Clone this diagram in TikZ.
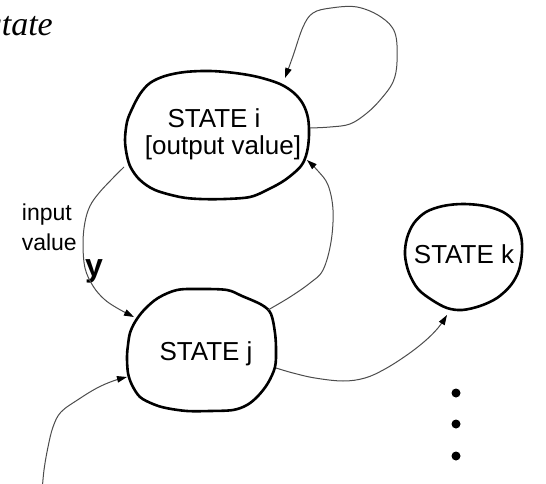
\documentclass[tikz,border=0pt]{standalone}
\usepackage{fontspec}
\setmainfont{Liberation Sans}
\newfontfamily\capserif{Liberation Serif}
\usetikzlibrary{arrows.meta}
\begin{document}
\begin{tikzpicture}[x=1pt,y=-1pt,
  blob/.style={line width=2.6pt,line join=round,draw=black},
  link/.style={line width=1pt,draw=black!70,
    -{Triangle[length=10pt,width=6.5pt,color=black]}},
  statetext/.style={font=\fontsize{26}{30}\selectfont,inner sep=0pt,anchor=base},
  labeltext/.style={font=\fontsize{23}{27}\selectfont,inner sep=0pt,anchor=base east},
  dotnode/.style={circle,fill=black,inner sep=0pt,minimum size=9pt}]
\useasboundingbox (0,0) rectangle (546,484);
\clip (0,0) rectangle (546,484);

% caption fragments
\node[inner sep=0pt,anchor=base east,font=\capserif\itshape\fontsize{34}{38}\selectfont] (capA) at (53,36) {state};
\node[inner sep=0pt,anchor=base east,font=\bfseries\fontsize{32}{36}\selectfont] (capB) at (103,276) {y};

% state outlines
\draw[blob] plot[smooth cycle,tension=0.55] coordinates {
  (125,140) (127,122) (132,109) (140,94) (150,83) (165,76) (185,72) (210,71)
  (235,73) (258,77) (280,84) (294,93) (303,104) (308,118) (309,135) (307,152)
  (301,166) (285,180) (267,190) (250,197) (225,199) (200,199) (180,197)
  (155,190) (140,180) (131,168) (127,156)};
\draw[blob] plot[smooth cycle,tension=0.55] coordinates {
  (135,322) (144,310) (158,298) (177,290) (200,289) (227,290) (242,296)
  (262,305) (271,314) (275,333) (276,350) (275,367) (268,383) (258,396)
  (247,405) (233,410) (210,411) (187,411) (166,408) (153,404) (140,397)
  (132,385) (128,373) (127,357) (128,345) (130,333)};
\draw[blob] plot[smooth cycle,tension=0.55] coordinates {
  (405,255) (407,238) (414,223) (426,212) (443,206) (463,204) (485,206)
  (503,212) (515,222) (521,236) (522,252) (519,270) (511,285) (497,298)
  (480,306) (462,310) (447,308) (432,300) (418,289) (409,273)};

% state texts
\node[statetext] (si) at (214,128) {STATE i};
\node[statetext] (sio) at (223,154) {[output value]};
\node[statetext] (sj) at (206,360) {STATE j};
\node[statetext] (sk) at (464,263) {STATE k};

% transition label
\node[labeltext] (lin) at (72,220) {input};
\node[labeltext] (lval) at (77,250) {value};

% connector ends on the outlines
\coordinate (iR) at (310,128);
\coordinate (iT) at (285,78);
\coordinate (iL) at (124,167);
\coordinate (iBR) at (307,160);
\coordinate (jTL) at (134,317);
\coordinate (jTR) at (268,310);
\coordinate (jR) at (276,368);
\coordinate (jL) at (127,377);
\coordinate (kBL) at (447,315);
\coordinate (ext) at (42,492);

% self loop on state i
\draw[link] plot[smooth,tension=0.6] coordinates {
  (iR) (330,127) (350,124) (367,113) (381,99) (393,82) (397,62) (395,33)
  (381,17) (357,7) (331,8) (313,13) (303,27) (293,56) (iT)};
% state i to state j on input value
\draw[link] plot[smooth,tension=0.6] coordinates {
  (iL) (112,179) (99,193) (90,206) (85,222) (83,243) (85,268) (93,286)
  (104,299) (117,308) (jTL)};
% state j back to state i
\draw[link] plot[smooth,tension=0.6] coordinates {
  (jTR) (290,297) (310,283) (323,270) (331,242) (333,210) (328,185)
  (318,171) (iBR)};
% state j to state k
\draw[link] plot[smooth,tension=0.6] coordinates {
  (jR) (293,373) (315,378) (343,381) (365,378) (385,369) (407,355)
  (425,341) (438,328) (kBL)};
% entry into state j
\draw[link] plot[smooth,tension=0.6] coordinates {
  (ext) (44,470) (48,447) (53,427) (61,412) (79,399) (97,388) (113,381) (jL)};

% more states follow
\node[dotnode] (d1) at (456,393) {};
\node[dotnode] (d2) at (456,424) {};
\node[dotnode] (d3) at (456,456) {};
\end{tikzpicture}
\end{document}
